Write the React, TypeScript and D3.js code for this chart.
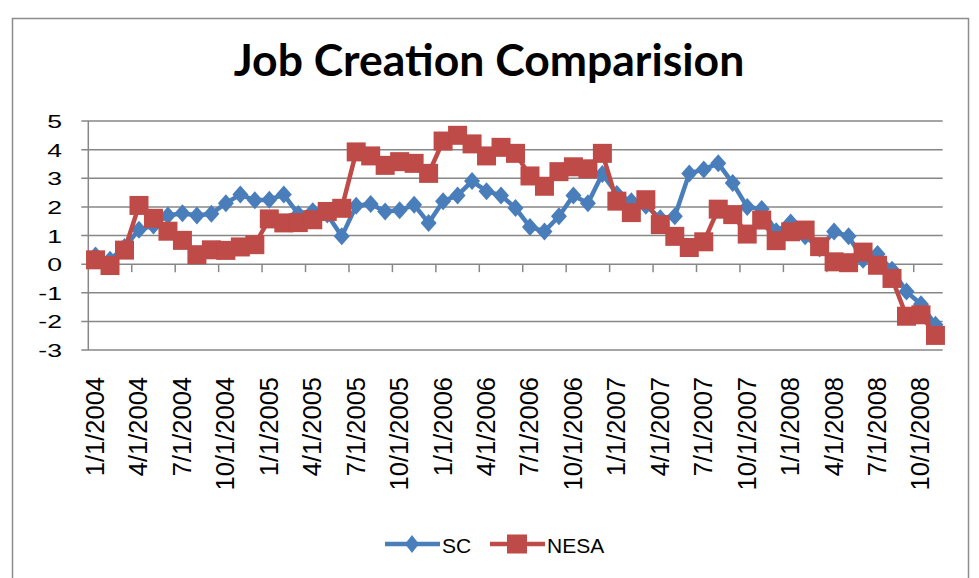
// Line chart comparing monthly job creation for SC and NESA, 2004-2008

import React, { useEffect, useRef } from "react"
import * as d3 from "d3"

// months Jan 2004 .. Nov 2008 (59 categories)
const months: Date[] = d3.timeMonth.range(new Date(2004, 0, 1), new Date(2008, 11, 1))

const scValues = [
  0.3, 0.15, 0.6, 1.2, 1.35, 1.7, 1.78, 1.7, 1.76, 2.13, 2.43, 2.23,
  2.25, 2.43, 1.75, 1.85, 1.73, 0.97, 2.04, 2.1, 1.84, 1.88, 2.07, 1.44,
  2.2, 2.4, 2.9, 2.55, 2.4, 1.96, 1.3, 1.14, 1.67, 2.4, 2.13, 3.15,
  2.45, 2.2, 2.04, 1.6, 1.67, 3.17, 3.31, 3.52, 2.83, 2.0, 1.93, 1.15,
  1.45, 0.97, 0.55, 1.14, 0.97, 0.15, 0.35, -0.2, -0.96, -1.4, -2.12,
]

const nesaValues = [
  0.15, -0.05, 0.49, 2.05, 1.6, 1.15, 0.83, 0.33, 0.5, 0.48, 0.6, 0.68,
  1.58, 1.44, 1.45, 1.55, 1.84, 1.95, 3.92, 3.78, 3.45, 3.58, 3.52, 3.17,
  4.3, 4.5, 4.2, 3.78, 4.08, 3.87, 3.08, 2.72, 3.23, 3.4, 3.33, 3.87,
  2.2, 1.8, 2.25, 1.38, 0.97, 0.58, 0.78, 1.92, 1.73, 1.05, 1.54, 0.82,
  1.13, 1.19, 0.61, 0.08, 0.05, 0.42, -0.04, -0.5, -1.82, -1.77, -2.49,
]

const yTicks = [-3, -2, -1, 0, 1, 2, 3, 4, 5]
const seriesNames = ["SC", "NESA"]
const seriesColors = ["#4a7ebb", "#be4b48"]

const W = 979
const H = 578
const fmt = d3.timeFormat("%-m/%-d/%Y")

// diamond marker, a bit taller than wide like the original
const diamond = (w: number, h: number) => `M0,${-h / 2}L${w / 2},0L0,${h / 2}L${-w / 2},0Z`

function App() {
  const ref = useRef<SVGSVGElement>(null)

  useEffect(() => {
    const svg = d3.select(ref.current)
    svg.selectAll("*").remove()

    const left = 88.3
    const right = 942.7
    const top = 121
    const bottom = 350
    const font = "'Liberation Sans', Arial, sans-serif"

    // outer frame
    svg.append("rect")
      .attr("x", 12.5).attr("y", 18.5)
      .attr("width", 956).attr("height", 600)
      .attr("fill", "#fff").attr("stroke", "#8c8c8c").attr("stroke-width", 1.5)

    svg.append("text")
      .attr("x", 489).attr("y", 76)
      .attr("text-anchor", "middle")
      .attr("font-family", "Lato, sans-serif").attr("font-weight", "bold")
      .attr("font-size", 44.5)
      .text("Job Creation Comparision")

    const idx = months.map((_, i) => i)
    const x = d3.scaleBand<number>().domain(idx).range([left, right]).padding(0)
    const cx = (i: number) => (x(i) as number) + x.bandwidth() / 2
    const y = d3.scaleLinear().domain([-3, 5]).range([bottom, top])

    // gridlines + y ticks
    svg.append("g").selectAll("line")
      .data(yTicks)
      .enter().append("line")
      .attr("x1", left - 7).attr("x2", right)
      .attr("y1", d => y(d)).attr("y2", d => y(d))
      .attr("stroke", "#878787").attr("stroke-width", 1.5)

    svg.append("g").selectAll("text")
      .data(yTicks)
      .enter().append("text")
      .attr("transform", d => `translate(62,${y(d) + 7}) scale(1.4,1)`)
      .attr("text-anchor", "end")
      .attr("font-family", font).attr("font-size", 19)
      .text(d => String(d))

    svg.append("line")
      .attr("x1", left).attr("x2", left)
      .attr("y1", top).attr("y2", bottom)
      .attr("stroke", "#878787").attr("stroke-width", 1.5)

    // x ticks every 3 months on the zero line
    const tickIdx = idx.filter(i => i % 3 === 0)
    svg.append("g").selectAll("line")
      .data(tickIdx.filter(i => i > 0))
      .enter().append("line")
      .attr("x1", d => x(d) as number).attr("x2", d => x(d) as number)
      .attr("y1", y(0)).attr("y2", y(0) + 8)
      .attr("stroke", "#878787").attr("stroke-width", 1.5)

    svg.append("g").selectAll("text")
      .data(tickIdx)
      .enter().append("text")
      .attr("transform", d => `translate(${cx(d) + 8.5},${377}) rotate(-90)`)
      .attr("text-anchor", "end")
      .attr("font-family", font).attr("font-size", 25.5)
      .text(d => fmt(months[d]))

    // series
    const all = [scValues, nesaValues]
    const line = d3.line<number>().x((_, i) => cx(i)).y(d => y(d))
    all.forEach((vals, s) => {
      const g = svg.append("g")
      g.append("path")
        .attr("d", line(vals))
        .attr("fill", "none")
        .attr("stroke", seriesColors[s]).attr("stroke-width", 4.5)
        .attr("stroke-linejoin", "round")
      if (s === 0) {
        g.selectAll("path.m").data(vals).enter().append("path")
          .attr("class", "m")
          .attr("d", diamond(16, 18))
          .attr("transform", (d, i) => `translate(${cx(i)},${y(d)})`)
          .attr("fill", seriesColors[s])
      } else {
        g.selectAll("rect").data(vals).enter().append("rect")
          .attr("x", (_, i) => cx(i) - 9.5).attr("y", d => y(d) - 9.5)
          .attr("width", 19).attr("height", 19)
          .attr("fill", seriesColors[s])
      }
    })

    // legend
    const lg = svg.append("g").attr("font-family", font).attr("font-size", 21)
    const legendX = [385, 490]
    seriesNames.forEach((name, s) => {
      const lx = legendX[s]
      const ly = 544
      lg.append("line")
        .attr("x1", lx).attr("x2", lx + 55).attr("y1", ly).attr("y2", ly)
        .attr("stroke", seriesColors[s]).attr("stroke-width", 4.5)
      if (s === 0) {
        lg.append("path")
          .attr("d", diamond(14, 18))
          .attr("transform", `translate(${lx + 27},${ly})`)
          .attr("fill", seriesColors[s])
      } else {
        lg.append("rect")
          .attr("x", lx + 17).attr("y", ly - 9.5).attr("width", 20).attr("height", 19)
          .attr("fill", seriesColors[s])
      }
      lg.append("text").attr("x", lx + 57).attr("y", ly + 8.5).text(name)
    })
  }, [])

  return (
    <div style={{ position: "fixed", left: 0, top: 0 }}>
      <svg ref={ref} width={W} height={H}></svg>
    </div>
  )
}

export default App
